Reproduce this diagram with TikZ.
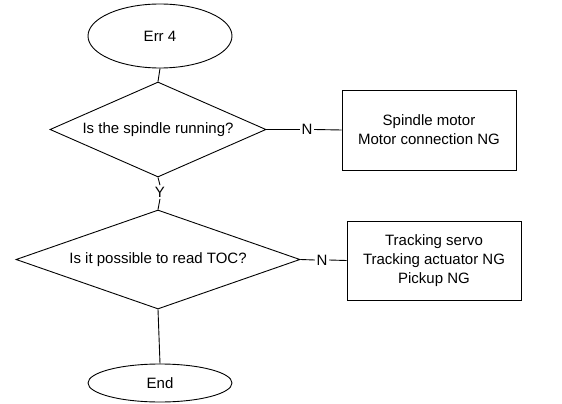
\documentclass[tikz,border=0pt]{standalone}
\usepackage{fontspec}
\setmainfont{Liberation Sans}
\usetikzlibrary{shapes.geometric}
\begin{document}
\begin{tikzpicture}[x=1pt,y=-1pt,
  every node/.style={font=\fontsize{15}{19}\selectfont},
  base/.style={draw=black, line width=0.9pt, inner sep=0pt},
  term/.style={base, ellipse, minimum width=144pt},
  decision/.style={base, diamond},
  result/.style={base, rectangle, align=center, minimum width=174pt},
  lbl/.style={inner sep=1.5pt},
  conn/.style={line width=0.9pt}]
\useasboundingbox (0,0) rectangle (562,404);
\node[term, minimum height=64pt] (err) at (160,36) {Err 4};
\node[decision, aspect=2.27, minimum width=216pt, minimum height=95pt] (d1) at (158,129.5) {Is the spindle running?};
\node[result, minimum height=80pt] (b1) at (429,130) {Spindle motor\\Motor connection NG};
\node[lbl] (n1) at (307,129.5) {N};
\node[lbl] (y1) at (160,192) {Y};
\node[decision, aspect=2.87, minimum width=284pt, minimum height=99pt] (d2) at (158,259.5) {Is it possible to read TOC?};
\node[lbl] (n2) at (322,260) {N};
\node[result, minimum height=79pt] (b2) at (434,260.5) {Tracking servo\\Tracking actuator NG\\Pickup NG};
\node[term, minimum height=38pt] (end) at (160,383) {End};
\draw[conn] (err.south) -- (d1.north);
\draw[conn] (d1.east) -- (n1.west);
\draw[conn] (n1.east) -- (b1.west);
\draw[conn] (d1.south) -- (y1.north);
\draw[conn] (y1.south) -- (d2.north);
\draw[conn] (d2.east) -- (n2.west);
\draw[conn] (n2.east) -- (b2.west);
\draw[conn] (d2.south) -- (end.north);
\end{tikzpicture}
\end{document}
